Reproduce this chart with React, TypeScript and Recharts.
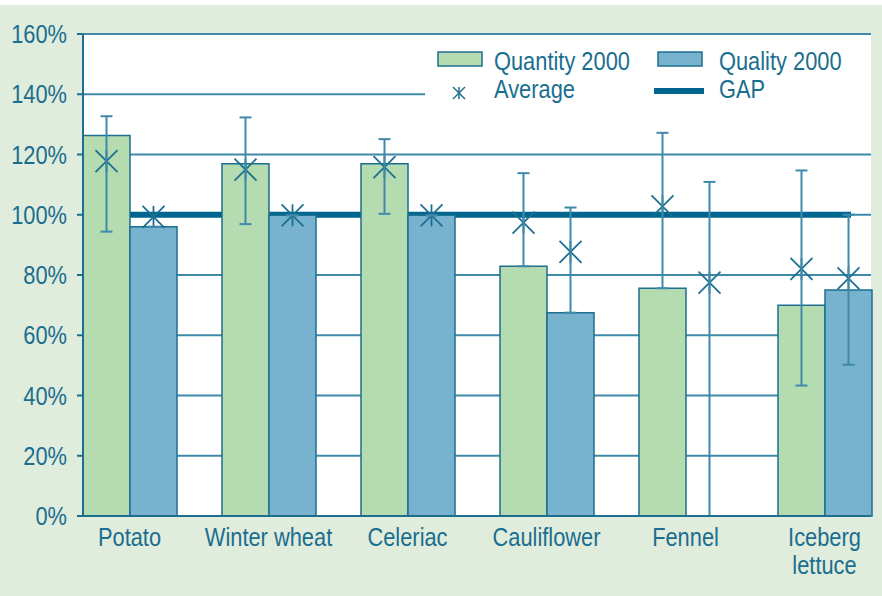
import { BarChart, Bar, XAxis, YAxis, CartesianGrid, ErrorBar, ReferenceLine, Rectangle } from 'recharts'

const categories = ['Potato', 'Winter wheat', 'Celeriac', 'Cauliflower', 'Fennel', 'Iceberg lettuce']
const categoryLines = [['Potato'], ['Winter wheat'], ['Celeriac'], ['Cauliflower'], ['Fennel'], ['Iceberg', 'lettuce']]

const quantity = [126.3, 116.9, 116.9, 82.9, 75.6, 70.0]
const quality = [96.0, 99.8, 99.8, 67.5, 0, 75.0]

const quantityAvg = [117.8, 115.0, 115.8, 97.4, 102.8, 82.0]
const qualityAvg = [99.3, 99.8, 99.8, 87.7, 77.5, 78.9]

const quantityLow = [94.4, 96.9, 100.3, 82.9, 75.6, 43.3]
const quantityHigh = [132.7, 132.3, 125.1, 113.8, 127.2, 114.7]
const qualityLow = [null, null, null, 67.5, 0, 50.2]
const qualityHigh = [null, null, null, 102.4, 110.9, 100]

const yTicks = [0, 20, 40, 60, 80, 100, 120, 140, 160]
const gapLevel = 100

const data = categories.map((name, i) => ({
  name,
  quantity: quantity[i],
  quality: quality[i],
  quantityAvg: quantityAvg[i],
  qualityAvg: qualityAvg[i],
  quantityLow: quantityLow[i],
  quantityHigh: quantityHigh[i],
  qualityLow: qualityLow[i],
  qualityHigh: qualityHigh[i],
}))

const BG = '#e0ecdc'
const TEXT = '#1a6e8f'
const AXIS = '#1d6f90'
const GRID = '#3f8aa8'
const GAP = '#00668f'
const GREEN = '#b5dbb1'
const BLUE = '#77b2cf'
const FONT = "'Liberation Sans', Arial, sans-serif"
const SQUEEZE = 0.84 // no narrow font installed, so squeeze a regular sans

const yMax = yTicks[yTicks.length - 1]

function NarrowText({ x, y, anchor = 'start', children }: { x: number; y: number; anchor?: string; children: any }) {
  return (
    <text
      transform={`translate(${x},${y}) scale(${SQUEEZE},1)`}
      textAnchor={anchor}
      fill={TEXT}
      fontSize={26}
      fontFamily={FONT}
    >
      {children}
    </text>
  )
}

function Asterisk({ cx, cy, r, color, width }: { cx: number; cy: number; r: number; color: string; width: number }) {
  return (
    <g stroke={color} strokeWidth={width}>
      <line x1={cx - r} y1={cy - r} x2={cx + r} y2={cy + r} />
      <line x1={cx - r} y1={cy + r} x2={cx + r} y2={cy - r} />
      <line x1={cx} y1={cy - r} x2={cx} y2={cy + r} />
    </g>
  )
}

// bar rectangle plus the average marker, placed with the bar's own background column
const makeShape = (avgKey: 'quantityAvg' | 'qualityAvg') => (props: any) => {
  const { x, width, payload, background } = props
  const avg = payload[avgKey]
  const cy = background.y + background.height * (1 - avg / yMax)
  return (
    <g>
      <Rectangle {...props} />
      <Asterisk cx={x + width / 2} cy={cy} r={11} color={AXIS} width={1.8} />
    </g>
  )
}

const quantityErr = (d: any) => [d.quantity - d.quantityLow, d.quantityHigh - d.quantity]
const qualityErr = (d: any) => (d.qualityLow == null ? [0, 0] : [d.quality - d.qualityLow, d.qualityHigh - d.quality])

const CategoryTick = ({ x, y, index }: any) => (
  <g>
    {categoryLines[index].map((line, i) => (
      <NarrowText key={line} x={x} y={y + 30 + i * 28} anchor="middle">
        {line}
      </NarrowText>
    ))}
  </g>
)

const PercentTick = ({ x, y, payload }: any) => (
  <NarrowText x={x} y={y + 9} anchor="end">
    {`${payload.value}%`}
  </NarrowText>
)

// the GAP line stops a little short of the right frame
const GapShape = (props: any) => (
  <line x1={props.x1} y1={props.y1} x2={props.x2 - 20} y2={props.y2} stroke={GAP} strokeWidth={6} />
)

function Legend() {
  return (
    <svg width={446} height={76} style={{ position: 'absolute', left: 425, top: 36 }}>
      <rect x={0} y={0} width={446} height={76} fill="#ffffff" />
      <rect x={13} y={16} width={44} height={14} fill={GREEN} stroke={AXIS} strokeWidth={1.5} />
      <NarrowText x={69} y={34}>Quantity 2000</NarrowText>
      <rect x={233} y={16} width={44} height={14} fill={BLUE} stroke={AXIS} strokeWidth={1.5} />
      <NarrowText x={294} y={34}>Quality 2000</NarrowText>
      <Asterisk cx={34} cy={57} r={6} color={AXIS} width={1.5} />
      <NarrowText x={69} y={62}>Average</NarrowText>
      <line x1={229} y1={55} x2={279} y2={55} stroke={GAP} strokeWidth={6} />
      <NarrowText x={294} y={62}>GAP</NarrowText>
    </svg>
  )
}

export default function App() {
  return (
    <div
      style={{
        position: 'absolute',
        left: 0,
        top: 0,
        width: 882,
        height: 596,
        background: `linear-gradient(#ffffff 0 5px, ${BG} 5px)`,
        fontFamily: FONT,
      }}
    >
      <BarChart
        width={882}
        height={596}
        data={data}
        margin={{ top: 34, right: 11, left: 0, bottom: 0 }}
        barCategoryGap={23}
        barGap={0}
      >
        <CartesianGrid vertical={false} stroke={GRID} strokeWidth={2} fill="#ffffff" fillOpacity={1} />
        <XAxis
          dataKey="name"
          height={80}
          padding={{ left: -23, right: -23 }}
          tickLine={false}
          tickSize={0}
          tickMargin={0}
          interval={0}
          stroke={AXIS}
          strokeWidth={2}
          tick={<CategoryTick />}
        />
        <YAxis
          width={83}
          domain={[0, yMax]}
          ticks={yTicks}
          interval={0}
          stroke={AXIS}
          strokeWidth={2}
          tickSize={6}
          tickMargin={10}
          tick={<PercentTick />}
        />
        <YAxis
          yAxisId="frame"
          orientation="right"
          width={0}
          domain={[0, yMax]}
          tick={false}
          tickLine={false}
          stroke={AXIS}
          strokeWidth={2}
        />
        <ReferenceLine y={gapLevel} shape={GapShape} zIndex={250} />
        <Bar
          dataKey="quantity"
          name="Quantity 2000"
          fill={GREEN}
          stroke={AXIS}
          strokeWidth={1.5}
          background={{ fill: 'none' }}
          shape={makeShape('quantityAvg')}
          isAnimationActive={false}
        >
          <ErrorBar dataKey={quantityErr} width={6} stroke={GRID} strokeWidth={2} isAnimationActive={false} />
        </Bar>
        <Bar
          dataKey="quality"
          name="Quality 2000"
          fill={BLUE}
          stroke={AXIS}
          strokeWidth={1.5}
          background={{ fill: 'none' }}
          shape={makeShape('qualityAvg')}
          isAnimationActive={false}
        >
          <ErrorBar dataKey={qualityErr} width={6} stroke={GRID} strokeWidth={2} isAnimationActive={false} />
        </Bar>
      </BarChart>
      <Legend />
    </div>
  )
}
